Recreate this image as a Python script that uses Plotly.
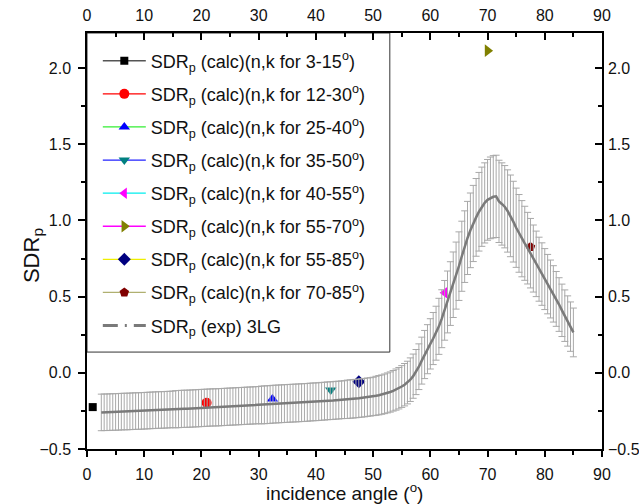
import numpy as np
import plotly.graph_objects as go

# measurement grid of the experimental curve (deg)
angles = np.arange(2.5, 85.01, 0.5)

sdr_exp = [
    -0.260, -0.259, -0.259, -0.258, -0.257, -0.257, -0.256, -0.255, -0.254, -0.254,
    -0.253, -0.252, -0.251, -0.251, -0.250, -0.249,
    -0.248, -0.247, -0.246, -0.245, -0.244, -0.244, -0.243, -0.242, -0.241, -0.240,
    -0.239, -0.238, -0.237, -0.236, -0.236, -0.235, -0.234, -0.233, -0.232, -0.231,
    -0.230, -0.229, -0.228, -0.227, -0.227, -0.226, -0.225, -0.224, -0.223, -0.222,
    -0.221, -0.220, -0.219, -0.218, -0.217, -0.216, -0.215, -0.214, -0.213, -0.212,
    -0.211, -0.210, -0.209, -0.208, -0.206, -0.205, -0.204, -0.203, -0.202, -0.201,
    -0.200, -0.199, -0.198, -0.197, -0.196, -0.195, -0.194, -0.192, -0.191, -0.190,
    -0.189, -0.187, -0.186, -0.184, -0.183, -0.182, -0.180, -0.179, -0.177, -0.176,
    -0.174, -0.172, -0.171, -0.169, -0.167, -0.165, -0.163, -0.160, -0.158, -0.155,
    -0.151, -0.147, -0.143, -0.138, -0.132, -0.126, -0.118, -0.110, -0.101, -0.090,
    -0.078, -0.064, -0.045, -0.022, 0.005, 0.040, 0.080, 0.120, 0.155, 0.190,
    0.225, 0.260, 0.305, 0.355, 0.410, 0.465, 0.520, 0.578, 0.638, 0.700,
    0.765, 0.828, 0.885, 0.935, 0.980, 1.020, 1.057, 1.090, 1.115, 1.135,
    1.148, 1.155, 1.158, 1.125, 1.108, 1.090, 1.062, 1.030, 0.992, 0.952,
    0.915, 0.880, 0.850, 0.818, 0.785, 0.750, 0.715, 0.680, 0.648, 0.615,
    0.582, 0.550, 0.518, 0.485, 0.448, 0.410, 0.375, 0.340, 0.303, 0.265,
]

sdr_err = [
    0.120, 0.120, 0.120, 0.120, 0.120, 0.120, 0.120, 0.120, 0.120, 0.120,
    0.120, 0.120, 0.120, 0.120, 0.120, 0.120, 0.120, 0.120, 0.120, 0.120,
    0.120, 0.120, 0.120, 0.120, 0.120, 0.120,
    0.122, 0.122, 0.122, 0.122, 0.122, 0.122, 0.122, 0.122, 0.122, 0.122,
    0.122, 0.122, 0.122, 0.122, 0.122, 0.122, 0.122, 0.122, 0.122, 0.122,
    0.122, 0.122, 0.122, 0.122, 0.122, 0.122, 0.122, 0.122, 0.122, 0.122,
    0.124, 0.124, 0.124, 0.124, 0.124, 0.124, 0.124, 0.124, 0.124, 0.124,
    0.124, 0.124, 0.124, 0.124, 0.124, 0.124, 0.124, 0.124, 0.124, 0.124,
    0.124, 0.124, 0.124, 0.124, 0.124, 0.124, 0.124, 0.124, 0.124, 0.124,
    0.126, 0.126, 0.126, 0.126, 0.126, 0.126, 0.126, 0.126, 0.126, 0.126,
    0.128, 0.129, 0.129, 0.130, 0.131, 0.132, 0.133, 0.135, 0.136, 0.137,
    0.139, 0.140, 0.143, 0.145, 0.148, 0.150, 0.154, 0.158, 0.161, 0.165,
    0.171, 0.177, 0.184, 0.190, 0.196, 0.203, 0.209, 0.215, 0.220, 0.225,
    0.230, 0.235, 0.240, 0.245, 0.250, 0.255, 0.258, 0.260, 0.263, 0.265,
    0.268, 0.270, 0.270, 0.270, 0.270, 0.270, 0.270, 0.268, 0.265, 0.260,
    0.255, 0.250, 0.243, 0.235, 0.228, 0.220, 0.215, 0.210, 0.205, 0.200,
    0.195, 0.190, 0.185, 0.180, 0.176, 0.172, 0.169, 0.165, 0.162, 0.160,
]
assert len(sdr_exp) == len(angles) == len(sdr_err)

calc_ranges = ["3-15", "12-30", "25-40", "35-50", "40-55", "55-70", "55-85", "70-85"]
calc_x = [1.0, 20.9, 32.4, 42.6, 62.5, 70.0, 47.5, 77.5]
calc_y = [-0.225, -0.197, -0.172, -0.112, 0.526, 2.114, -0.058, 0.826]
calc_symbols = ["square", "circle", "triangle-up", "triangle-down", "triangle-left",
                "triangle-right", "diamond", "pentagon"]
calc_marker_colors = ["#000000", "#ff0000", "#0000ff", "#008080", "#ff00ff",
                      "#808000", "#000080", "#800000"]
calc_line_colors = ["#555555", "#ff0000", "#33ee33", "#2222ff", "#00eeee",
                    "#ff00ff", "#eeee00", "#b0b070"]
calc_sizes = [8, 10, 10, 10, 10, 11, 10, 10]

xticks = [0, 10, 20, 30, 40, 50, 60, 70, 80, 90]
yticks = [-0.5, 0.0, 0.5, 1.0, 1.5, 2.0]
x_range = [0, 90]
y_range = [-0.5, 2.23]

FONT = "Arial, Liberation Sans, sans-serif"

fig = go.Figure()

for i in range(len(calc_x)):
    fig.add_trace(go.Scatter(
        x=[calc_x[i]], y=[calc_y[i]], mode="lines+markers",
        name="SDR<sub>p</sub> (calc)(n,k for " + calc_ranges[i] + "<sup>o</sup>)",
        line=dict(color=calc_line_colors[i], width=1.3),
        marker=dict(symbol=calc_symbols[i], color=calc_marker_colors[i],
                    size=calc_sizes[i], line=dict(width=0)),
        legendgroup="g%d" % i, cliponaxis=False,
    ))

fig.add_trace(go.Scatter(
    x=angles, y=sdr_exp, mode="lines", showlegend=False,
    line=dict(color="#7a7a7a", width=2.5),
    error_y=dict(type="data", array=sdr_err, visible=True,
                 color="#a8a8a8", thickness=1, width=3.5),
))
# legend entry of the experimental curve (dash-dot as in the key)
fig.add_trace(go.Scatter(
    x=[None], y=[None], mode="lines", name="SDR<sub>p</sub> (exp) 3LG",
    line=dict(color="#7a7a7a", width=3, dash="15px,7px,2px,7px"),
    legendgroup="gexp",
))
# transparent copy on the mirrored (top / right) axes so they carry labels
fig.add_trace(go.Scatter(
    x=angles, y=sdr_exp, mode="lines", showlegend=False, hoverinfo="skip",
    line=dict(color="rgba(0,0,0,0)", width=0), xaxis="x2", yaxis="y2",
))

axis_common = dict(showgrid=False, zeroline=False, showline=True, automargin=False,
                   linecolor="black", linewidth=1.5, tickcolor="black",
                   tickwidth=1.5, tickfont=dict(family=FONT, size=16, color="#111"))

fig.update_layout(
    width=639, height=504,
    margin=dict(l=87, r=37, t=33, b=55),
    paper_bgcolor="white", plot_bgcolor="white",
    font=dict(family=FONT, color="#111"),
    xaxis=dict(range=x_range, tickvals=xticks, ticks="outside", ticklen=6,
               ticklabelstandoff=4,
               minor=dict(dtick=5, ticks="outside", ticklen=4, tickcolor="black", tickwidth=1.5),
               **axis_common),
    yaxis=dict(range=y_range, tickvals=yticks, tickformat=".1f", ticks="outside",
               ticklen=7, ticklabelstandoff=4,
               minor=dict(dtick=0.25, ticks="outside", ticklen=4, tickcolor="black", tickwidth=1.5),
               **axis_common),
    xaxis2=dict(range=x_range, tickvals=xticks, ticks="inside", ticklen=7,
                overlaying="x", side="top", anchor="y2", ticklabelstandoff=4,
                minor=dict(dtick=5, ticks="inside", ticklen=4, tickcolor="black", tickwidth=1.5),
                **axis_common),
    yaxis2=dict(range=y_range, tickvals=yticks, tickformat=".1f", ticks="inside",
                ticklen=7, overlaying="y", side="right", anchor="x2", ticklabelstandoff=1,
                minor=dict(dtick=0.25, ticks="inside", ticklen=4, tickcolor="black", tickwidth=1.5),
                **axis_common),
    legend=dict(x=0.021, y=0.977, xanchor="left", yanchor="top",
                bgcolor="rgba(0,0,0,0)", borderwidth=0,
                font=dict(family=FONT, size=18, color="#111"),
                traceorder="grouped", tracegroupgap=6.7, itemwidth=43),
    shapes=[dict(type="rect", xref="paper", yref="paper", x0=0, x1=0.588,
                 y0=0.233, y1=1.0, line=dict(color="#333", width=1),
                 fillcolor="white", layer="below")],
    annotations=[
        dict(text="SDR<sub>p</sub>", xref="paper", yref="paper", x=-0.105, y=0.466,
             xanchor="center", yanchor="middle", textangle=-90, showarrow=False,
             font=dict(family=FONT, size=22, color="#111")),
        dict(text="incidence angle (<sup>o</sup>)", xref="paper", yref="paper",
             x=0.5, y=-0.103, xanchor="center", yanchor="middle", showarrow=False,
             font=dict(family=FONT, size=19, color="#111")),
    ],
)

fig.write_html("out.html")
